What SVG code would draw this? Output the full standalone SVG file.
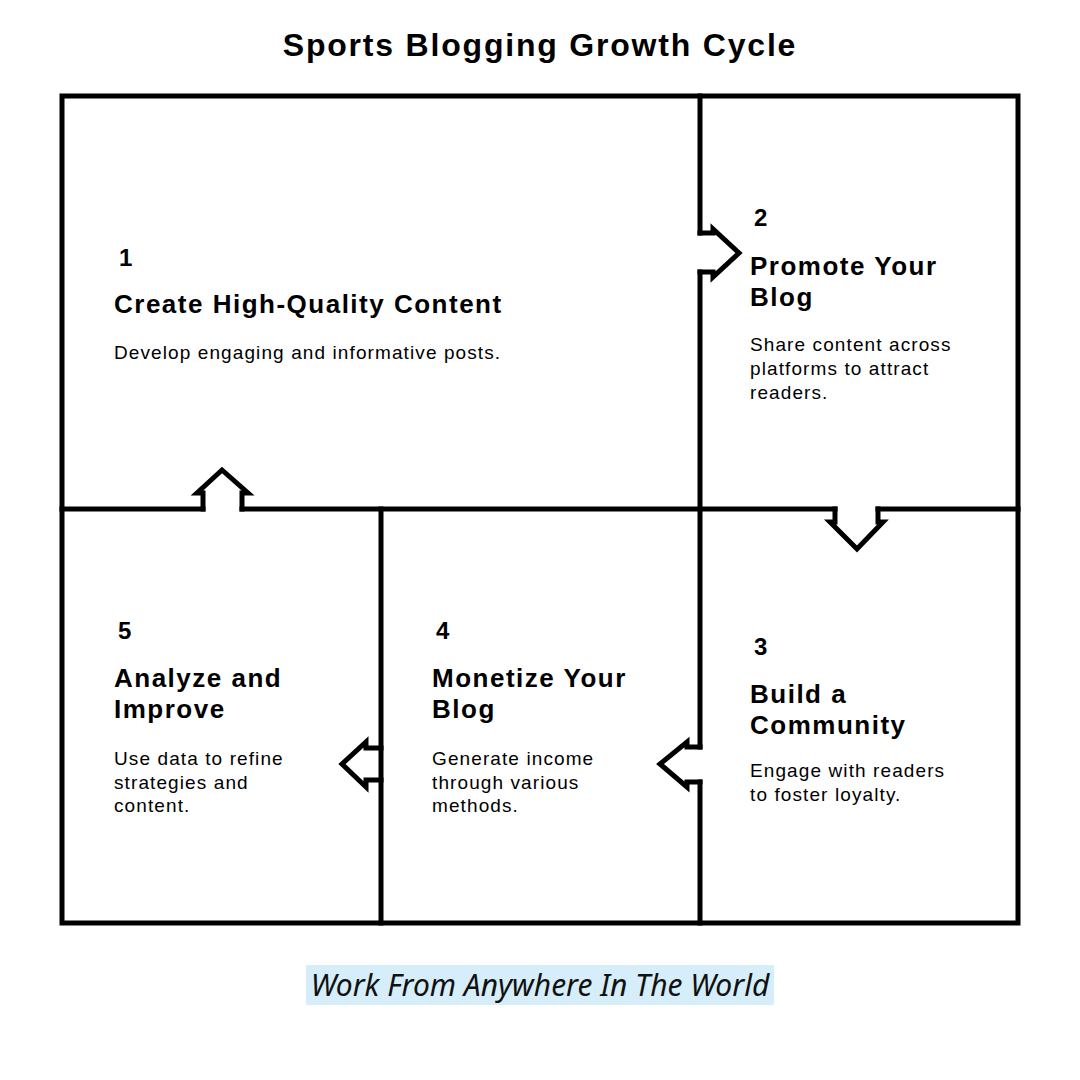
<svg xmlns="http://www.w3.org/2000/svg" width="1080" height="1080" viewBox="0 0 1080 1080">
<style>
.ln{fill:none;stroke:#000;stroke-width:5;stroke-linejoin:miter;stroke-linecap:square}
.title{font-family:"Liberation Sans",Arial,sans-serif;font-weight:700;font-size:32px;letter-spacing:1.8px;fill:#000}
.num{font-family:"Liberation Sans",Arial,sans-serif;font-weight:700;font-size:24px;fill:#000}
.hd{font-family:"Liberation Sans",Arial,sans-serif;font-weight:700;font-size:26px;letter-spacing:1.5px;fill:#000}
.bd{font-family:"Liberation Sans",Arial,sans-serif;font-size:19px;letter-spacing:1.1px;fill:#000}
.ft{font-family:"Noto Sans",sans-serif;font-style:italic;font-size:30px;fill:#111}
</style>
<rect width="1080" height="1080" fill="#fff"/>
<text class="title" x="540" y="56" text-anchor="middle">Sports Blogging Growth Cycle</text>
<g id="frame">
<rect class="ln" x="62" y="96" width="956" height="827"/>
<path class="ln" d="M700,96 V233 M700,272 V747 M700,782 V923"/>
<path class="ln" d="M62,509 H203 M242,509 H835 M878,509 H1018"/>
<path class="ln" d="M381,509 V923"/>
</g>
<g id="connectors">
<path class="ln" d="M700,233 H713 V229 L739,253 L713,277 V272 H700"/>
<path class="ln" d="M835,509 V522 H830 L857,549 L883,522 H878 V509"/>
<path class="ln" d="M700,747 H687 V742 L660,764 L687,787 V782 H700"/>
<path class="ln" d="M381,748 H366 V742 L342,764 L366,787 V780 H381"/>
<path class="ln" d="M203,509 V493 H197 L222,470 L248,493 H242 V509"/>
</g>
<g id="node1">
<text class="num" x="119" y="266">1</text>
<text class="hd" x="114" y="313">Create High-Quality Content</text>
<text class="bd" x="114" y="359">Develop engaging and informative posts.</text>
</g>
<g id="node2">
<text class="num" x="754" y="226">2</text>
<text class="hd" x="750" y="275">Promote Your</text>
<text class="hd" x="750" y="306">Blog</text>
<text class="bd" x="750" y="351">Share content across</text>
<text class="bd" x="750" y="375">platforms to attract</text>
<text class="bd" x="750" y="399">readers.</text>
</g>
<g id="node3">
<text class="num" x="754" y="655">3</text>
<text class="hd" x="750" y="703">Build a</text>
<text class="hd" x="750" y="734">Community</text>
<text class="bd" x="750" y="777">Engage with readers</text>
<text class="bd" x="750" y="801">to foster loyalty.</text>
</g>
<g id="node4">
<text class="num" x="436" y="639">4</text>
<text class="hd" x="432" y="687">Monetize Your</text>
<text class="hd" x="432" y="718">Blog</text>
<text class="bd" x="432" y="765">Generate income</text>
<text class="bd" x="432" y="789">through various</text>
<text class="bd" x="432" y="812">methods.</text>
</g>
<g id="node5">
<text class="num" x="118" y="639">5</text>
<text class="hd" x="114" y="687">Analyze and</text>
<text class="hd" x="114" y="718">Improve</text>
<text class="bd" x="114" y="765">Use data to refine</text>
<text class="bd" x="114" y="789">strategies and</text>
<text class="bd" x="114" y="812">content.</text>
</g>
<g id="footer">
<rect x="306" y="965" width="468" height="40" fill="#d5eefa"/>
<text class="ft" x="540" y="996" text-anchor="middle">Work From Anywhere In The World</text>
</g>
</svg>
